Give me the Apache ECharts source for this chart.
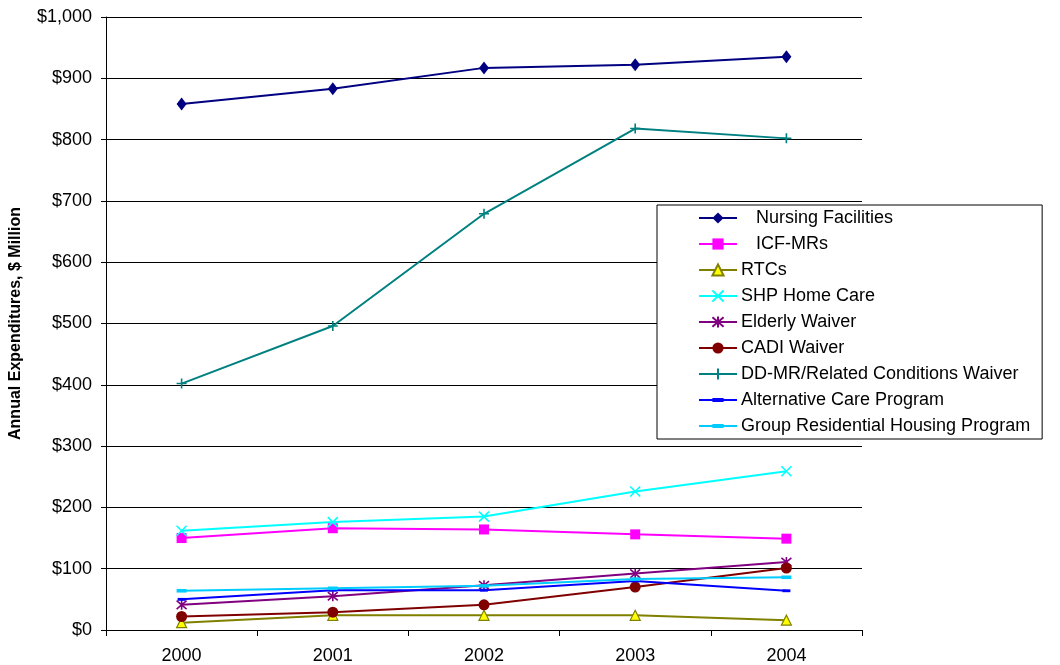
<!DOCTYPE html>
<html>
<head>
<meta charset="utf-8">
<script src="https://cdn.jsdelivr.net/npm/echarts@6/dist/echarts.min.js"></script>
<style>
  html, body { margin: 0; padding: 0; background: #fff; }
  #chart { width: 1060px; height: 665px; }
</style>
</head>
<body>
<div id="chart"></div>
<script>
// Annual expenditures by long-term care program, $ million
const years = ['2000', '2001', '2002', '2003', '2004'];

const nursingFacilities   = [858, 883, 917, 922, 935];
const icfMrs              = [150, 166, 164, 156, 149];
const rtcs                = [12, 24, 24, 24, 16];
const shpHomeCare         = [162, 176, 185, 226, 259];
const elderlyWaiver       = [41, 55, 73, 92, 111];
const cadiWaiver          = [22, 29, 41, 70, 101];
const ddMrWaiver          = [402, 496, 679, 818, 802];
const alternativeCare     = [50, 65, 65, 80, 64];
const groupResidential    = [64, 68, 72, 83, 86];

const yTicks = { min: 0, max: 1000, step: 100 };

// stroked marker shapes
const xMark    = 'path://M0,0 L10,10 M10,0 L0,10';
const starMark = 'path://M0,0 L10,10 M10,0 L0,10 M5,-1 L5,11';
const plusMark = 'path://M5,0 L5,10 M0,5 L10,5';
// short horizontal bar inside a square frame of move-to points
const dashMark = 'path://M0,0 M10,10 M0,3.2 L10,3.2 L10,6.8 L0,6.8 Z';

const FONT = 'Liberation Sans, Arial, sans-serif';

function mk(name, data, color, symbol, size, opts) {
  opts = opts || {};
  return {
    name: name,
    type: 'line',
    data: data,
    symbol: symbol,
    symbolSize: size,
    showAllSymbol: true,
    lineStyle: { color: color, width: 2 },
    itemStyle: Object.assign({ color: color, borderColor: color, borderWidth: opts.stroke ? 1.6 : 0 }, opts.item || {}),
    emphasis: { disabled: true },
    animation: false,
    z: opts.z || 2
  };
}

const series = [
  mk('Nursing Facilities', nursingFacilities, '#000080', 'diamond', [10, 13]),
  mk('ICF-MRs', icfMrs, '#FF00FF', 'rect', 10),
  mk('RTCs', rtcs, '#808000', 'triangle', 10, { item: { color: '#FFFF00', borderColor: '#808000', borderWidth: 1.2 } }),
  mk('SHP Home Care', shpHomeCare, '#00FFFF', xMark, 10, { stroke: true }),
  mk('Elderly Waiver', elderlyWaiver, '#800080', starMark, 10, { stroke: true }),
  mk('CADI Waiver', cadiWaiver, '#800000', 'circle', 11),
  mk('DD-MR/Related Conditions Waiver', ddMrWaiver, '#008080', plusMark, 10, { stroke: true }),
  mk('Alternative Care Program', alternativeCare, '#0000FF', dashMark, 8),
  mk('Group Residential Housing Program', groupResidential, '#00CCFF', dashMark, 10)
];

const indented = { 'Nursing Facilities': true, 'ICF-MRs': true };

const chart = echarts.init(document.getElementById('chart'), null, { renderer: 'canvas' });
chart.setOption({
  backgroundColor: '#ffffff',
  animation: false,
  textStyle: { fontFamily: FONT },
  grid: { left: 105, right: 198, top: 17, bottom: 34, containLabel: false },
  legend: {
    orient: 'vertical',
    left: 657,
    top: 205,
    padding: [4, 12, 4, 41],
    itemGap: 8,
    itemWidth: 38,
    itemHeight: 14,
    backgroundColor: '#ffffff',
    borderColor: '#000000',
    borderWidth: 1,
    borderRadius: 0,
    selectedMode: false,
    textStyle: { fontSize: 18, lineHeight: 18, color: '#000', fontFamily: FONT, padding: [0, 0, 0, -1] },
    formatter: function (n) { return indented[n] ? '   ' + n : n; },
    data: series.map(s => s.name)
  },
  xAxis: {
    type: 'category',
    data: years,
    boundaryGap: true,
    axisLine: { lineStyle: { color: '#000', width: 1 } },
    axisTick: { show: true, length: 6, alignWithLabel: false, lineStyle: { color: '#000' } },
    axisLabel: { color: '#000', fontSize: 18, fontFamily: FONT, margin: 17 },
    splitLine: { show: false }
  },
  yAxis: {
    type: 'value',
    min: yTicks.min,
    max: yTicks.max,
    interval: yTicks.step,
    name: 'Annual Expenditures, $ Million',
    nameLocation: 'middle',
    nameGap: 82,
    nameTextStyle: { color: '#000', fontSize: 16, fontWeight: 'bold', fontFamily: FONT },
    axisLine: { show: true, lineStyle: { color: '#000', width: 1 } },
    axisTick: { show: true, length: 5, lineStyle: { color: '#000' } },
    axisLabel: {
      color: '#000', fontSize: 18, fontFamily: FONT, margin: 14,
      formatter: v => '$' + v.toLocaleString('en-US')
    },
    splitLine: { show: true, lineStyle: { color: '#000', width: 1 } }
  },
  series: series
});
</script>
</body>
</html>
